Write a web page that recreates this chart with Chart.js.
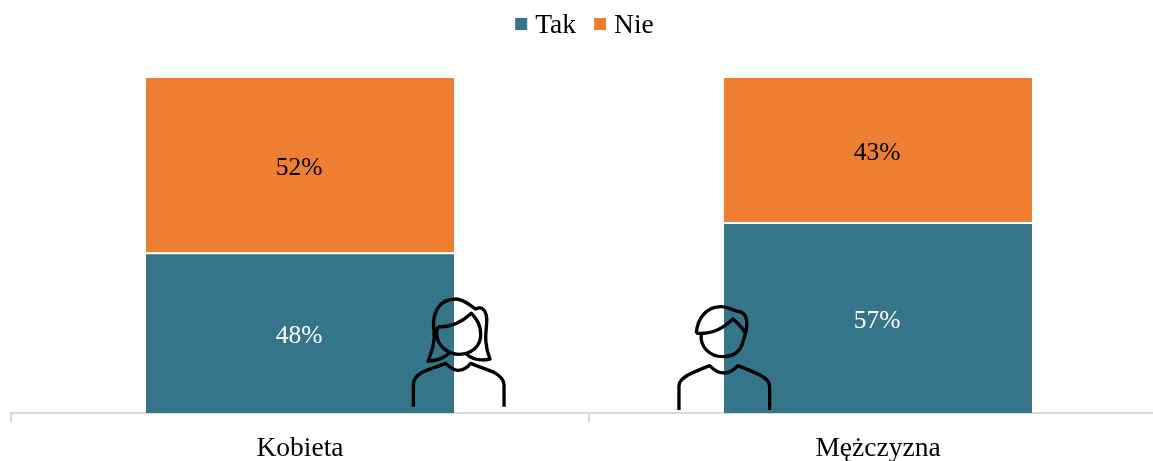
<!DOCTYPE html>
<html>
<head>
<meta charset="utf-8">
<style>
   html, body { margin: 0; padding: 0; background: #fff; overflow: hidden; }
</style>
<script src="https://cdn.jsdelivr.net/npm/chart.js@4/dist/chart.umd.min.js"></script>
</head>
<body>
<canvas id="chart" width="1169" height="480"></canvas>
<script>
const categories = ["Kobieta", "Mężczyzna"];
const tak = [48, 57];
const nie = [52, 43];

const serif = "'Liberation Serif', 'Times New Roman', serif";

// icons are traced in 3x units, origin given as the bar edge and the baseline
const womanIcon = new Path2D(
   "M38 365 L38 300 C38 280 50 270 65 262 C85 252 110 245 135 235 C150 250 160 256 172 256 C185 256 200 248 210 235 C235 245 255 252 280 262 C298 272 310 285 310 300 L310 365 " +
   "M150 200 C135 215 120 225 82 229 C95 195 103 170 100 140 C92 85 115 42 165 42 C190 42 205 60 225 72 C240 65 255 68 258 100 C260 130 245 165 268 222 C240 228 215 225 195 205 " +
   "M112 125 C150 128 185 110 212 85 C225 100 240 115 240 150 C240 185 210 208 175 208 C140 208 108 180 108 145 C108 135 110 130 112 125");
const manIcon = new Path2D(
   "M43 345 L43 272 C43 258 55 250 70 240 C90 230 115 220 135 212 C150 228 165 234 178 234 C192 234 207 226 220 212 C245 222 270 232 290 242 C305 250 315 258 315 275 L315 345 " +
   "M95 115 C98 70 125 35 170 35 C190 35 205 48 225 50 C243 55 250 75 245 105 C240 125 236 135 232 150 " +
   "M95 115 C150 118 180 95 205 72 C220 85 235 100 240 112 " +
   "M110 118 C105 155 135 185 175 185 C205 185 225 170 234 145");

const barLabels =
{
   id: "barLabels",
   afterDatasetsDraw(chart)
   {
      const ctx = chart.ctx;
      ctx.save();
      ctx.font = "25.5px " + serif;
      ctx.textAlign = "center";
      ctx.textBaseline = "middle";
      chart.data.datasets.forEach(function(dataset, setIndex)
      {
         chart.getDatasetMeta(setIndex).data.forEach(function(bar, index)
         {
            const mid = (bar.y + bar.base) / 2;
            ctx.fillStyle = setIndex === 0 ? "#ffffff" : "#000000";
            ctx.fillText(dataset.data[index] + "%", bar.x - 1, mid + (setIndex === 0 ? 4 : 3));
         });
      });
      ctx.restore();
   }
};

// the built-in legend keeps a gap of half the font size after the box, the reference is tighter
const topLegend =
{
   id: "topLegend",
   afterDraw(chart)
   {
      const ctx = chart.ctx;
      const boxSize = 12;
      const boxGap = 8;
      const itemGap = 18;
      const datasets = chart.data.datasets;

      ctx.save();
      ctx.font = "27.5px " + serif;
      ctx.textBaseline = "middle";

      let total = itemGap * (datasets.length - 1);
      datasets.forEach(function(dataset)
      {
         total += boxSize + boxGap + ctx.measureText(dataset.label).width;
      });

      let x = (chart.width - total) / 2;
      datasets.forEach(function(dataset)
      {
         ctx.fillStyle = dataset.backgroundColor;
         ctx.fillRect(x, 18, boxSize, boxSize);
         x += boxSize + boxGap;
         ctx.fillStyle = "#000000";
         ctx.fillText(dataset.label, x, 26);
         x += ctx.measureText(dataset.label).width + itemGap;
      });
      ctx.restore();
   }
};

const personIcons =
{
   id: "personIcons",
   afterDraw(chart)
   {
      const ctx = chart.ctx;
      const bars = chart.getDatasetMeta(0).data;
      const baseline = chart.scales.y.bottom;

      function stamp(icon, x, y)
      {
         ctx.save();
         ctx.translate(x, y);
         ctx.scale(1 / 3, 1 / 3);
         ctx.strokeStyle = "#000000";
         ctx.lineWidth = 10;
         ctx.lineJoin = "round";
         ctx.stroke(icon);
         ctx.restore();
      }

      stamp(womanIcon, bars[0].x + bars[0].width / 2 - 160 / 3, baseline - 128);
      stamp(manIcon, bars[1].x - bars[1].width / 2 - 178 / 3, baseline - 118);
   }
};

new Chart(document.getElementById("chart").getContext("2d"),
{
   type: "bar",
   data:
   {
      labels: categories,
      datasets: [
         {
            label: "Tak",
            data: tak,
            backgroundColor: "#35758A",
            borderColor: "#ffffff",
            borderWidth: { top: 2, left: 0, right: 0, bottom: 0 },
            borderSkipped: false,
         },
         {
            label: "Nie",
            data: nie,
            backgroundColor: "#EE7E32",
         },
      ],
   },
   options:
   {
      responsive: false,
      animation: false,
      barPercentage: 0.533,
      categoryPercentage: 1,
      layout: { padding: { left: 11, right: 2, top: 78, bottom: 5 } },
      plugins:
      {
         tooltip: { enabled: false },
         legend: { display: false },
      },
      scales:
      {
         x:
         {
            stacked: true,
            border: { color: "#D9D9D9", width: 2 },
            grid: { drawOnChartArea: false, drawTicks: true, tickLength: 9, color: "#D9D9D9", lineWidth: 2 },
            ticks: { color: "#000000", font: { family: serif, size: 27.5 }, padding: 10, maxRotation: 0 },
         },
         y:
         {
            display: false,
            stacked: true,
            min: 0,
            max: 100,
         },
      },
   },
   plugins: [barLabels, topLegend, personIcons],
});
</script>
</body>
</html>
